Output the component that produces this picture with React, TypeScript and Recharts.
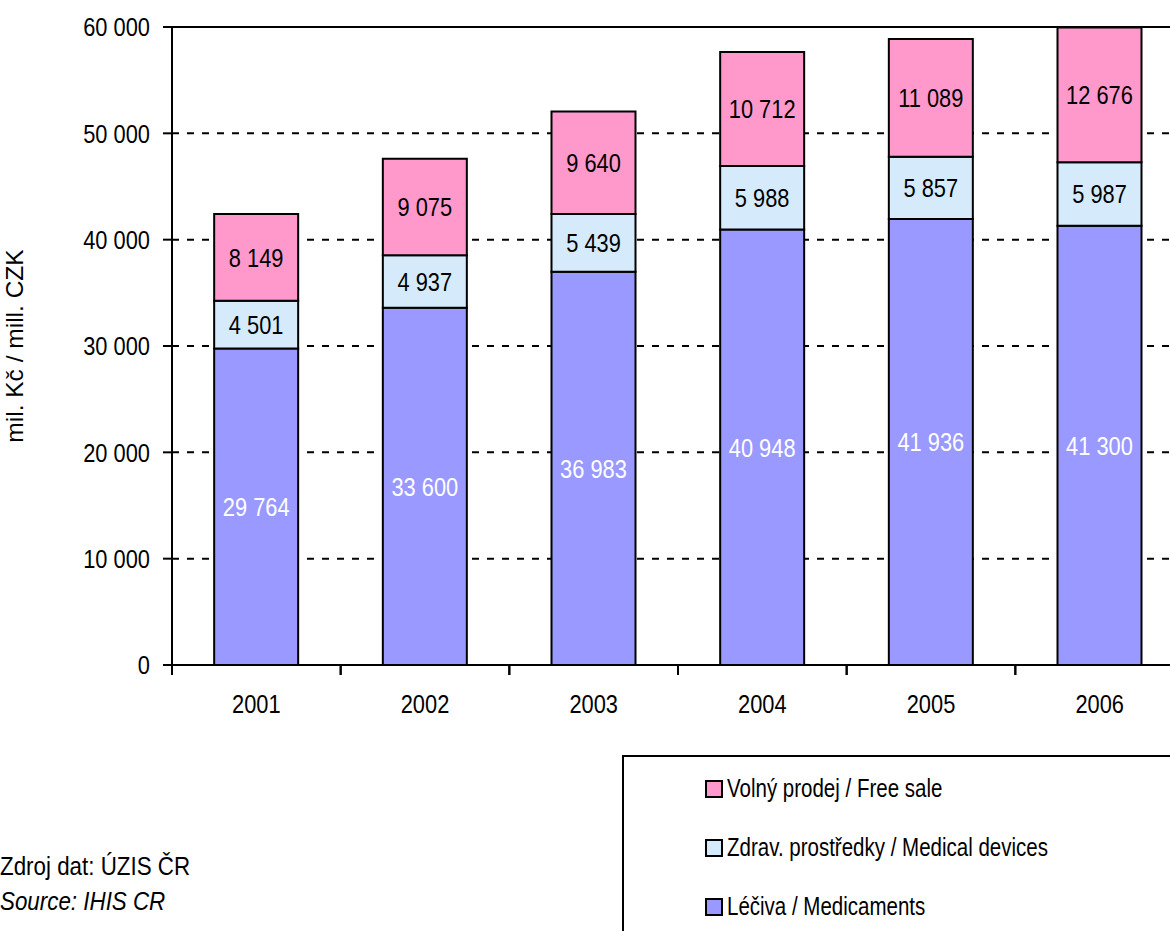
import React from 'react';
import {
  BarChart, Bar, XAxis, YAxis, CartesianGrid, LabelList, ReferenceLine
} from 'recharts';

const years = ['2001', '2002', '2003', '2004', '2005', '2006'];
const medicaments = [29764, 33600, 36983, 40948, 41936, 41300];
const devices = [4501, 4937, 5439, 5988, 5857, 5987];
const freeSale = [8149, 9075, 9640, 10712, 11089, 12676];
const yTicks = [0, 10000, 20000, 30000, 40000, 50000, 60000];

const series = [
  { key: 'free', name: 'Volný prodej / Free sale', color: '#FF99CC', label: '#000' },
  { key: 'dev', name: 'Zdrav. prostředky / Medical devices', color: '#D5EBFC', label: '#000' },
  { key: 'med', name: 'Léčiva / Medicaments', color: '#9999FF', label: '#fff' },
];

const data = years.map((year, i) => ({
  year,
  med: medicaments[i],
  dev: devices[i],
  free: freeSale[i],
}));

const FONT = "'Liberation Sans', Arial, sans-serif";
const FS = 26;
const NARROW = 0.84; // no narrow font installed, so squeeze the text instead

const css = `
.recharts-label-list text, .year-label {
  transform: scaleX(${NARROW}); transform-box: fill-box; transform-origin: center;
}
.value-label {
  transform: scaleX(${NARROW}); transform-box: fill-box; transform-origin: right center;
}
`;

// thousands with a space, like "29 764"
function fmt(value: unknown): string {
  if (typeof value !== 'number') return '';
  return String(value).replace(/\B(?=(\d{3})+(?!\d))/g, ' ');
}

// category label plus tick marks on the band boundaries
function YearTick(props: any) {
  const { x, y, payload } = props;
  const half = payload && payload.offset ? payload.offset : 0;
  return (
    <g>
      <line x1={x - half} y1={y} x2={x - half} y2={y + 10} stroke="#000" strokeWidth={2} />
      <line x1={x + half} y1={y} x2={x + half} y2={y + 10} stroke="#000" strokeWidth={2} />
      <text className="year-label" x={x} y={y + 48} textAnchor="middle" fontSize={FS} fontFamily={FONT} fill="#000">
        {payload.value}
      </text>
    </g>
  );
}

function ValueTick(props: any) {
  const { x, y, payload } = props;
  return (
    <text className="value-label" x={x} y={y} dy="0.355em" textAnchor="end" fontSize={FS} fontFamily={FONT} fill="#000">
      {fmt(payload.value)}
    </text>
  );
}

function Narrow({ children, k }: { children: React.ReactNode; k: number }) {
  return (
    <span style={{ display: 'inline-block', transform: `scaleX(${k})`, transformOrigin: 'left center', whiteSpace: 'nowrap' }}>
      {children}
    </span>
  );
}

function LegendBox() {
  return (
    <div style={{
      position: 'absolute', left: 622, top: 755,
      width: 600, height: 220, border: '2px solid #000', boxSizing: 'border-box',
      background: '#fff', paddingTop: 2, fontFamily: FONT, fontSize: 25, color: '#000',
    }}>
      {series.map((s) => (
        <div key={s.key} style={{ display: 'flex', alignItems: 'center', height: 59, paddingLeft: 81 }}>
          <span style={{
            display: 'inline-block', width: 14, height: 14, border: '2px solid #000',
            background: s.color, marginRight: 4, flex: 'none',
          }} />
          <Narrow k={0.82}>{s.name}</Narrow>
        </div>
      ))}
    </div>
  );
}

export default function App() {
  return (
    <div style={{
      position: 'fixed', left: 0, top: 0, width: 1170, height: 931,
      overflow: 'hidden', background: '#fff', fontFamily: FONT,
    }}>
      <style>{css}</style>
      <BarChart
        width={1184}
        height={720}
        data={data}
        margin={{ top: 27, right: 0, bottom: 0, left: 0 }}
        barCategoryGap="25%"
      >
        <CartesianGrid vertical={false} stroke="#000" strokeWidth={2} strokeDasharray="7 8" />
        <XAxis
          dataKey="year"
          height={55}
          tickSize={0}
          tickMargin={0}
          tickLine={false}
          axisLine={{ stroke: '#000', strokeWidth: 2 }}
          tick={<YearTick />}
          interval={0}
        />
        <YAxis
          width={172}
          domain={[0, 60000]}
          ticks={yTicks}
          tickSize={9}
          tickMargin={13}
          interval={0}
          axisLine={{ stroke: '#000', strokeWidth: 2 }}
          tickLine={{ stroke: '#000', strokeWidth: 2 }}
          tick={<ValueTick />}
          label={{
            value: 'mil. Kč / mill. CZK', angle: -90, position: 'insideLeft', offset: 14,
            style: { textAnchor: 'middle', fill: '#000', fontSize: 24.5, fontFamily: FONT },
          }}
        />
        <ReferenceLine y={60000} stroke="#000" strokeWidth={2} />
        {[...series].reverse().map((s) => (
          <Bar
            key={s.key}
            dataKey={s.key}
            name={s.name}
            stackId="a"
            fill={s.color}
            stroke="#000"
            strokeWidth={2}
            isAnimationActive={false}
          >
            <LabelList
              dataKey={s.key}
              position="center"
              formatter={fmt}
              fill={s.label}
              fontSize={FS}
              fontFamily={FONT}
            />
          </Bar>
        ))}
      </BarChart>
      <LegendBox />
      <div style={{ position: 'absolute', left: 0, top: 849, fontSize: 26, lineHeight: '35px', color: '#000' }}>
        <div><Narrow k={0.86}>Zdroj dat: ÚZIS ČR</Narrow></div>
        <div style={{ fontStyle: 'italic' }}><Narrow k={0.86}>Source: IHIS CR</Narrow></div>
      </div>
    </div>
  );
}
